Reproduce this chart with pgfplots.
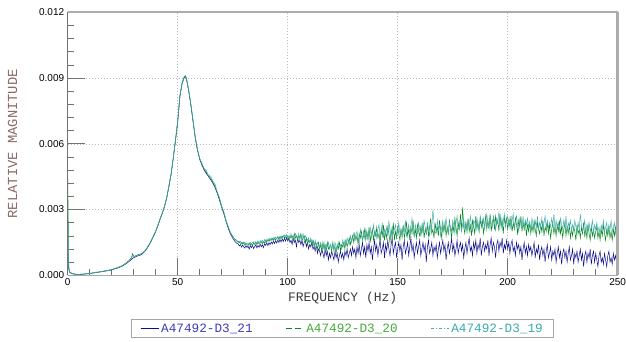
\documentclass[border=0pt]{standalone}
\usepackage{pgfplots}
\pgfplotsset{compat=1.18}
\usepackage{pgfplotstable}
\usepackage{fontspec}
\setmainfont{Liberation Sans}
\newfontfamily\monofont{Liberation Mono}
\definecolor{cA}{RGB}{15,15,140}
\definecolor{cB}{RGB}{10,135,30}
\definecolor{cC}{RGB}{70,175,175}
\definecolor{tA}{RGB}{60,60,190}
\definecolor{tB}{RGB}{70,170,60}
\definecolor{tC}{RGB}{60,170,170}
\definecolor{ylab}{RGB}{140,105,105}
\definecolor{xlab}{RGB}{60,60,60}

\pgfplotstableread{
f a b c
0 12 46 30
0.5 2.5 3.5 3.0
1 1.2 1.5 1.3
2 0.7 0.9 0.8
3 0.5 0.6 0.5
4 0.45 0.5 0.45
5 0.4 0.45 0.45
6 0.45 0.5 0.5
7 0.5 0.55 0.5
8 0.6 0.65 0.6
9 0.7 0.75 0.75
10 0.85 0.9 0.85
11 0.95 1.05 1.0
12 1.1 1.2 1.15
13 1.25 1.4 1.3
14 1.4 1.5 1.5
15 1.55 1.75 1.65
16 1.7 1.85 1.8
17 1.9 2.1 2.0
18 2.05 2.2 2.15
19 2.2 2.45 2.3
20 2.5 2.6 2.65
21 2.8 3.0 2.9
22 3.1 3.3 3.25
23 3.4 3.7 3.6
24 3.8 4.0 4.05
25 4.3 4.6 4.5
26 4.9 5.3 5.1
27 5.6 6.0 5.9
28 6.4 6.9 6.7
29 7.3 8.1 7.8
29.5 7.8 9.9 8.9
30 8.0 8.6 8.6
31 8.5 8.9 9.0
32 8.9 9.4 9.4
33 9.2 9.7 9.7
34 9.8 10.1 10.2
35 10.8 11.0 11.1
36 12.2 12.4 12.5
37 13.8 14.0 14.1
38 15.7 15.9 16.0
39 17.8 18.0 18.1
40 19.9 20.1 20.2
41 22.6 22.8 22.9
42 25.6 25.8 25.9
43 28.3 28.5 28.6
44 31.3 31.5 31.6
45 35.2 35.4 35.5
46 40.5 40.7 40.8
47 46.0 46.2 46.3
48 53.5 53.7 53.8
49 61.5 61.8 61.9
50 70.0 70.3 70.4
51 81.5 81.8 81.9
52 87.5 87.8 88.0
53 90.3 90.6 90.8
53.5 90.8 91.0 91.2
54 89.5 89.8 90.0
55 84.0 84.3 84.5
56 77.5 77.8 78.0
57 70.0 70.3 70.5
58 62.5 62.8 63.0
59 57.0 57.3 57.5
60 52.8 53.2 53.4
61 50.3 50.8 51.2
62 48.0 48.6 48.7
63 46.5 47.0 47.9
64 45.0 45.6 45.5
65 43.6 44.2 45.3
66 42.0 42.6 42.9
67 39.9 40.5 41.6
68 37.3 37.8 37.9
69 34.3 34.8 35.6
70 31.0 31.5 31.4
71 28.0 28.3 29.0
72 24.5 24.8 25.0
73 21.3 21.8 22.3
74 18.8 19.5 19.4
75 17.0 17.6 18.0
76 15.5 16.4 16.2
76.5 15.0 16.3 15.9
77 14.5 15.4 15.8
77.5 14.3 15.6 14.9
78 13.4 15.1 15.3
78.5 14.0 14.6 15.6
79 12.9 15.0 14.4
79.5 13.8 14.2 15.2
80 13.0 14.9 14.6
80.5 12.4 13.8 15.1
81 13.6 14.7 13.9
81.5 12.7 14.0 14.8
82 13.3 13.6 14.5
82.5 11.9 14.8 13.8
83 13.5 13.9 15.0
83.5 12.6 14.5 14.2
84 13.8 13.5 14.9
84.5 12.2 14.9 15.3
85 13.1 14.2 14.0
85.5 13.9 15.1 15.4
86 12.5 14.0 14.6
86.5 13.6 15.3 15.7
87 12.8 14.4 14.3
87.5 14.2 15.0 15.9
88 13.0 15.6 14.8
88.5 13.9 14.5 16.0
89 12.6 15.4 15.2
89.5 14.4 14.8 16.3
90 13.7 16.0 15.1
90.5 14.8 15.2 16.4
91 13.5 16.3 15.8
91.5 14.9 15.5 16.9
92 14.0 16.6 15.9
92.5 15.2 15.9 17.0
93 14.3 16.8 16.1
93.5 15.6 16.0 17.2
94 14.5 17.1 16.4
94.5 15.8 16.2 17.5
95 14.7 16.9 16.6
95.5 16.1 17.4 17.8
96 15.0 16.3 16.9
96.5 16.3 17.8 16.4
97 15.2 16.8 18.0
97.5 16.6 17.5 16.9
98 15.4 18.1 17.6
98.5 16.9 16.9 18.3
99 15.6 18.0 17.2
99.5 17.0 17.2 18.6
100 15.8 17.7 17.4
100.5 17 16 18
101 15 18 17
101.5 16 17 19
102 14 18 17
102.5 17 16 18
103 15 19 16
103.5 16 17 19
104 13 18 18
104.5 17 16 17
105 15 18 19
105.5 16 17 16
106 14 19 18
106.5 16 16 17
107 13 17 19
107.5 15 18 16
108 16 15 18
108.5 13 17 17
109 15 14 16
109.5 12 16 17
110 14 15 15
110.5 13 16 17
111 15 14 15
111.5 12 16 16
112 13 13 14
112.5 11 15 16
113 14 14 13
113.5 10 12 15
114 12 15 14
114.5 11 12 13
115 9 14 15
115.5 12 11 13
116 10 15 12
116.5 8 12 15
117 12 14 11
117.5 9 11 14
118 11 15 13
118.5 7 12 15
119 10 13 12
119.5 8 14 14
120 11 11 12
120.5 9 15 14
121 7 12 11
121.5 11 13 15
122 8 10 13
122.5 10 14 12
123 6 12 15
123.5 9 15 13
124 11 11 14
124.5 8 14 12
125 10 13 16
125.5 7 15 13
126 11 12 16
126.5 9 16 14
127 12 13 17
127.5 8 15 15
128 10 17 14
128.5 12 14 18
129 9 16 15
129.5 13 18 17
130 10 15 19
130.5 12 19 16
131 8 16 18
131.5 13 18 20
132 10 14 17
132.5 14 19 15
133 9 17 21
133.5 12 20 18
134 15 16 16
134.5 10 18 20
135 13 21 17
135.5 8 16 21
136 14 20 18
136.5 11 17 16
137 15 22 20
137.5 10 15 22
138 13 19 17
138.5 7 21 19
139 12 16 23
139.5 16 20 18
140 11 18 20
140.5 14 22 17
141 9 17 21
141.5 13 19 23
142 16 15 18
142.5 10 21 20
143 12 18 24
143.5 15 23 17
144 8 16 21
144.5 14 20 19
145 11 17 22
145.5 16 22 18
146 12 19 25
146.5 9 15 20
147 14 21 17
147.5 17 18 22
148 10 24 19
148.5 13 16 21
149 15 20 23
149.5 8 17 18
150 12 22 20
150.5 15 19 24
151 11 16 19
151.5 14 21 21
152 7 18 17
152.5 13 23 22
153 16 17 20
153.5 10 20 25
154 12 24 18
154.5 15 18 21
155 9 21 23
155.5 13 16 19
156 17 22 22
156.5 11 19 26
157 14 25 20
157.5 8 18 18
158 12 21 23
158.5 15 17 21
159 10 23 19
159.5 13 20 24
160 16 18 21
160.5 9 22 18
161 12 19 23
161.5 15 24 20
162 11 17 25
162.5 14 21 22
163 6 19 19
163.5 13 23 24
164 16 18 21
164.5 10 22 18
165 12 26 23
165.5 15 19 22
166 9 21 30
166.5 13 17 24
167 11 24 20
167.5 14 20 19
168 8 22 25
168.5 12 18 21
169 15 25 23
169.5 10 21 18
170 13 17 22
170.5 16 23 25
171 11 20 20
171.5 14 24 23
172 7 18 26
172.5 12 22 21
173 15 19 19
173.5 10 25 24
174 13 21 22
174.5 17 17 20
175 11 23 25
175.5 14 20 23
176 9 26 19
176.5 12 22 24
177 16 18 27
177.5 10 24 21
178 13 21 22
178.5 15 28 25
179 11 20 20
179.5 14 31 23
180 8 22 26
180.5 12 19 21
181 15 24 24
181.5 10 21 19
182 14 26 25
182.5 17 20 22
183 11 23 27
183.5 13 18 23
184 9 25 20
184.5 15 22 25
185 12 19 24
185.5 16 27 21
186 10 21 26
186.5 14 24 23
187 12 20 20
187.5 17 26 27
188 9 22 24
188.5 13 25 22
189 15 19 26
189.5 11 23 21
190 14 27 25
190.5 12 21 28
191 16 25 23
191.5 9 22 21
192 14 28 26
192.5 17 20 24
193 11 24 22
193.5 15 26 27
194 13 21 25
194.5 8 27 20
195 14 23 26
195.5 16 25 24
196 11 20 29
196.5 15 28 23
197 13 22 26
197.5 17 25 21
198 10 19 25
198.5 14 27 28
199 12 23 22
199.5 16 26 25
200 12 21 27
200.5 15 25 23
201 10 22 26
201.5 14 27 21
202 16 20 25
202.5 11 24 28
203 13 21 22
203.5 9 26 24
204 15 23 27
204.5 12 19 23
205 14 25 20
205.5 10 22 26
206 13 27 24
206.5 7 20 22
207 12 24 27
207.5 15 21 21
208 10 25 25
208.5 13 18 23
209 9 23 26
209.5 14 20 22
210 11 24 24
210.5 13 19 21
211 9 23 26
211.5 12 20 23
212 15 25 20
212.5 8 21 25
213 12 18 22
213.5 10 24 27
214 14 21 21
214.5 7 19 24
215 11 23 22
215.5 13 20 26
216 9 25 20
216.5 12 18 24
217 6 22 27
217.5 11 20 22
218 14 24 25
218.5 8 19 21
219 10 23 24
219.5 13 17 22
220 7 21 26
220.5 11 24 23
221 9 19 28
221.5 12 22 21
222 6 18 25
222.5 10 23 22
223 13 20 24
223.5 8 25 20
224 11 19 26
224.5 5 22 23
225 10 17 21
225.5 12 21 25
226 8 24 22
226.5 11 18 27
227 6 22 20
227.5 10 19 24
228 13 23 22
228.5 7 17 25
229 9 21 20
229.5 12 18 23
230 5 22 21
230.5 10 20 25
231 8 16 22
231.5 11 23 19
232 6 19 24
232.5 9 21 21
233 12 17 28
233.5 7 22 23
234 10 19 20
234.5 4 24 22
235 9 18 25
235.5 11 21 19
236 6 17 23
236.5 10 23 21
237 8 19 24
237.5 12 16 20
238 5 22 22
238.5 9 18 25
239 11 21 19
239.5 6 17 23
240 10 20 21
240.5 7 22 24
241 4 17 20
241.5 9 20 22
242 11 16 19
242.5 6 21 23
243 8 18 21
243.5 5 23 25
244 10 19 20
244.5 7 16 22
245 4 21 24
245.5 9 18 19
246 11 22 23
246.5 6 17 21
247 8 20 25
247.5 5 16 20
248 10 21 22
248.5 7 18 24
249 9 22 19
249.5 6 17 23
250 8 19 21
}\spec

\begin{document}
\begin{tikzpicture}
\begin{axis}[name=ax, scale only axis, width=550pt, height=263pt,
  xmin=0, xmax=250, ymin=0, ymax=120,
  xtick={0,50,100,150,200,250}, xticklabels={0,50,100,150,200,250},
  ytick={0,30,60,90,120}, yticklabels={0.000,0.003,0.006,0.009,0.012},
  minor x tick num=4, minor y tick num=4,
  tick align=inside, tick pos=left,
  major tick length=17pt, minor tick length=6pt,
  major tick style={line width=1pt, color=black!55},
  minor tick style={line width=0.6pt, color=black!55},
  grid=major, major grid style={gray!55, dash pattern=on 1pt off 2pt, line width=0.5pt},
  axis line style={draw=none},
  tick label style={font=\fontsize{10}{12}\selectfont, text=black},
  xlabel={FREQUENCY (Hz)}, ylabel={RELATIVE MAGNITUDE},
  xlabel style={font=\monofont\fontsize{13}{15}\selectfont, text=xlab,
    at={(axis description cs:0.5,-0.0875)}, anchor=center},
  ylabel style={font=\monofont\fontsize{13.8}{15}\selectfont, text=ylab,
    at={(axis description cs:-0.1,0.5)}, anchor=center},
  legend columns=3,
  legend style={at={(axis description cs:0.5,-0.1673)}, anchor=north,
    draw=gray!70, line width=0.8pt,
    font=\monofont\fontsize{12.7}{14}\selectfont,
    inner xsep=9pt, inner ysep=2pt,
    /tikz/every even column/.append style={column sep=31pt}},
]
\addplot[cA, line width=0.5pt, legend image code/.code={\draw[cA, line width=0.6pt] (0pt,0pt) -- (18pt,0pt);}] table[x=f, y=a]{\spec};
\addlegendentry{\textcolor{tA}{A47492-D3\_21}}
\addplot[cB, line width=0.5pt, legend image code/.code={\draw[cB, line width=0.6pt, dash pattern=on 6pt off 3pt] (0pt,0pt) -- (18pt,0pt);}] table[x=f, y=b]{\spec};
\addlegendentry{\textcolor{tB}{A47492-D3\_20}}
\addplot[cC, line width=0.5pt, legend image code/.code={\draw[cC, line width=0.6pt, dash pattern=on 3pt off 2pt on 1pt off 2pt] (0pt,0pt) -- (18pt,0pt);}] table[x=f, y=c]{\spec};
\addlegendentry{\textcolor{tC}{A47492-D3\_19}}
\end{axis}
\draw[gray!65, line width=2pt] (ax.north west) -- (ax.north east);
\draw[gray!65, line width=2.5pt] (ax.north east) -- (ax.south east);
\draw[black!55, line width=0.6pt] (ax.north west) -- (ax.south west);
\draw[black!35, line width=0.5pt] (ax.south west) -- (ax.south east);
\pgfresetboundingbox
\path[use as bounding box] ([xshift=-67.7pt,yshift=-66pt]ax.south west) rectangle ([xshift=8.3pt,yshift=12.3pt]ax.north east);
\end{tikzpicture}
\end{document}
